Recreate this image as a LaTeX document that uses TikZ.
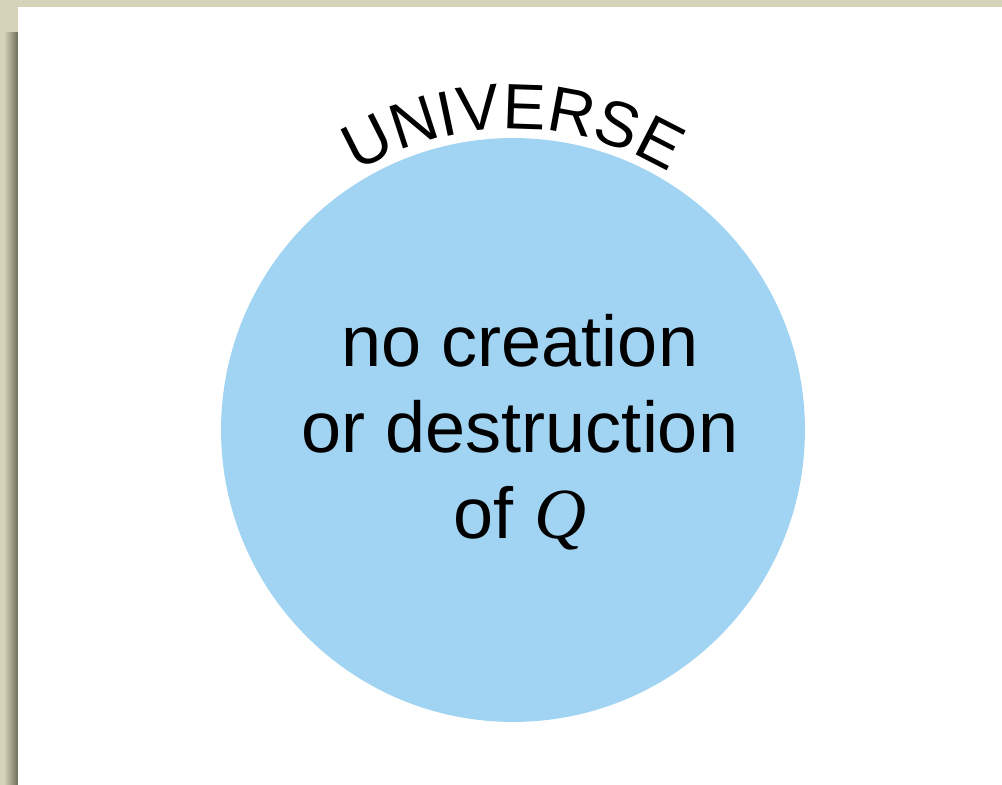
\documentclass[tikz,border=0pt]{standalone}
\usepackage{fontspec}
\setmainfont{Liberation Sans}
\newfontfamily\qfont{Liberation Serif}
\usepackage{xcolor}
\usetikzlibrary{positioning,decorations.text}
\definecolor{parchment}{HTML}{D6D4B8}
\definecolor{parchshade}{HTML}{6C6C58}
\definecolor{sheet}{HTML}{FFFFFF}
\definecolor{skyblue}{HTML}{A1D4F2}
\definecolor{ink}{HTML}{000000}
\tikzset{
  universe/.style={circle,fill=skyblue,draw=none,minimum size=11.68cm,
                   inner sep=0pt},
  lawtext/.style={align=center,text=ink,inner sep=0pt,
                  font=\fontsize{41}{49}\selectfont},
  archlabel/.style={decorate,decoration={text along path,text align=center,
                    text={|\fontsize{36.5}{44}\selectfont|UNIVERSE}}}
}

\begin{document}
\begin{tikzpicture}[x=0.02cm,y=0.02cm]
    \path[use as bounding box] (0,0) rectangle (1002,785);
    % backdrop and sheet
    \fill[parchment] (0,0) rectangle (1002,785);
    \shade[left color=parchment,right color=parchshade] (4,0) rectangle (18,752);
    \fill[sheet] (18,0) rectangle (1002,778);
    % the set
    \node[universe] (univ) at (513,355) {};
    \node[lawtext] (law) at (520,353)
      {no creation\\or destruction\\of {\qfont\itshape Q}};
    \path[archlabel] (univ.center) ++(150:301) arc[start angle=150,end angle=30,radius=301];
  \end{tikzpicture}
\end{document}
